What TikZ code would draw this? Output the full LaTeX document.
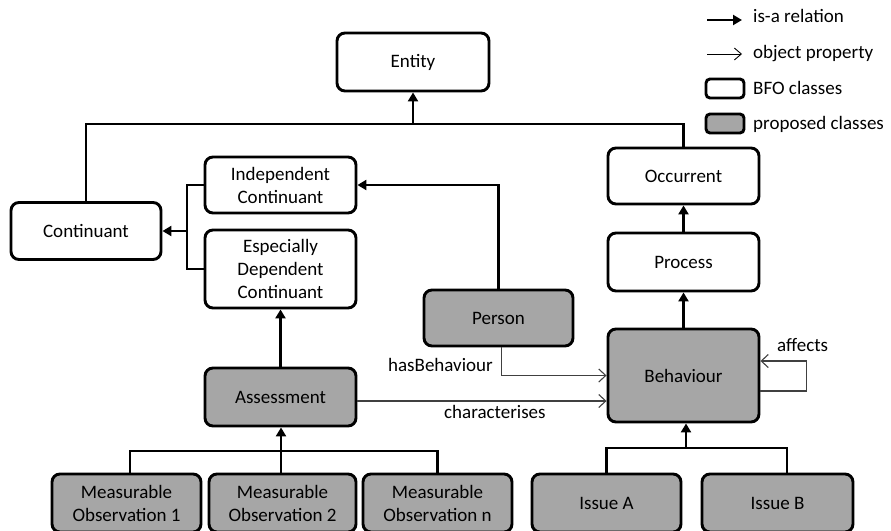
\documentclass[tikz,border=0pt]{standalone}
\usepackage{fontspec}
\setmainfont{Carlito}
\usetikzlibrary{arrows.meta}
\definecolor{propfill}{HTML}{A6A6A6}
\definecolor{proplink}{HTML}{404040}
\begin{document}
\begin{tikzpicture}[x=1pt,y=-1pt,
  cls/.style={draw=black, line width=2.9pt, rounded corners=8pt, align=center,
    font=\fontsize{19}{23}\selectfont, inner sep=0pt, fill=white},
  bfo/.style={cls},
  prop/.style={cls, fill=propfill},
  isa/.style={line width=2.9pt, -{Triangle[width=10pt,length=9pt]}},
  bus/.style={line width=2.9pt},
  objprop/.style={draw=proplink, line width=1.1pt, -{Straight Barb[length=7pt,width=13pt]}},
  lbl/.style={font=\fontsize{19}{23}\selectfont, inner sep=0pt},
]
\useasboundingbox (0,0) rectangle (891,530);
\clip (0,0) rectangle (891,530);

% BFO upper classes
\node[bfo, minimum width=152pt, minimum height=58pt] (entity) at (413,62) {Entity};
\node[bfo, minimum width=150pt, minimum height=57pt] (cont) at (86,231) {Continuant};
\node[bfo, minimum width=151pt, minimum height=56pt] (ic) at (280.5,185) {Independent\\Continuant};
\node[bfo, minimum width=151pt, minimum height=78pt] (edc) at (280.5,269) {Especially\\Dependent\\Continuant};
\node[bfo, minimum width=151pt, minimum height=56pt] (occ) at (683.5,176) {Occurrent};
\node[bfo, minimum width=151pt, minimum height=58pt] (proc) at (683.5,262) {Process};

% proposed classes
\node[prop, minimum width=149pt, minimum height=56pt] (person) at (498.5,318) {Person};
\node[prop, minimum width=151pt, minimum height=93pt] (beh) at (683.5,375.5) {Behaviour};
\node[prop, minimum width=151pt, minimum height=58pt] (assess) at (280.5,397) {Assessment};
\node[prop, minimum width=149pt, minimum height=58pt] (mo1) at (126.5,503) {Measurable\\Observation 1};
\node[prop, minimum width=147pt, minimum height=58pt] (mo2) at (282.5,503) {Measurable\\Observation 2};
\node[prop, minimum width=149pt, minimum height=58pt] (mo3) at (437.5,503) {Measurable\\Observation n};
\node[prop, minimum width=149pt, minimum height=58pt] (issA) at (606.5,503) {Issue A};
\node[prop, minimum width=151pt, minimum height=58pt] (issB) at (777.5,503) {Issue B};

% is-a hierarchy
\coordinate (topbus) at (413,124);
\draw[bus] (cont.north) |- (topbus) -| (occ.north);
\draw[isa] (topbus) -- (entity.south);

\coordinate (lbus) at (187,231);
\draw[bus] (ic.west) -| (lbus) |- (edc.west);
\draw[isa] (lbus) -- (cont.east);

\draw[isa] (person.north) |- (ic.east);
\draw[isa] (assess.north) -- (edc.south);
\draw[isa] (proc.north) -- (occ.south);
\draw[isa] (beh.north) -- (proc.south);

\coordinate (mbus) at (281,451);
\draw[bus] ([xshift=3.5pt]mo1.north) |- (mbus) -| (mo3.north);
\draw[isa] (mo2.north -| mbus) -- (assess.south -| mbus);

\coordinate (ibus) at (686,448);
\draw[bus] (issA.north) |- (ibus) -| ([xshift=9.5pt]issB.north);
\draw[isa] (ibus) -- (beh.south -| ibus);

% object properties
\draw[objprop] ([xshift=3pt]person.south) |- (beh.west);
\node[lbl, anchor=base east] (hbl) at (493,371) {hasBehaviour};
\draw[objprop] ([yshift=-4pt]assess.east) -- ([yshift=-4pt]assess.east -| beh.west);
\node[lbl, anchor=base west] (chl) at (444,418) {characterises};
\draw[objprop] ([yshift=-15.5pt]beh.east) -- ++(46,0) -- ++(0,-30) -- ([yshift=14.5pt]beh.east);
\node[lbl, anchor=base west] (afl) at (777,351) {affects};

% legend
\coordinate (l1a) at (707,20);
\coordinate (l1b) at (742,20);
\draw[isa] (l1a) -- (l1b);
\node[lbl, anchor=base west] (lg1) at (753,22) {is-a relation};
\coordinate (l2a) at (707,54);
\coordinate (l2b) at (742,54);
\draw[objprop, draw=black, line width=0.9pt, -{Straight Barb[length=7pt,width=12pt]}] (l2a) -- (l2b);
\node[lbl, anchor=base west] (lg2) at (753,58) {object property};
\node[bfo, rounded corners=4pt, minimum width=38pt, minimum height=19pt] (lgbox1) at (725,88.5) {};
\node[lbl, anchor=base west] (lg3) at (753,94) {BFO classes};
\node[prop, rounded corners=4pt, minimum width=38pt, minimum height=19pt] (lgbox2) at (725,123.5) {};
\node[lbl, anchor=base west] (lg4) at (753,129) {proposed classes};
\end{tikzpicture}
\end{document}
